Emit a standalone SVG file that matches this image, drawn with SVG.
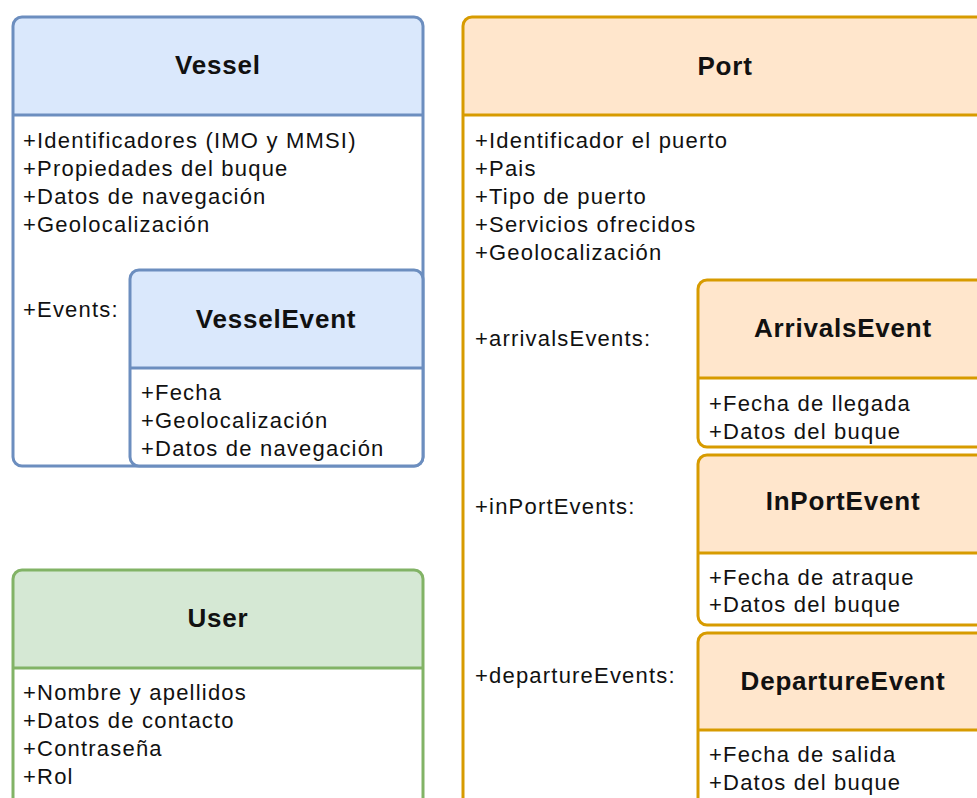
<svg xmlns="http://www.w3.org/2000/svg" width="977" height="798" viewBox="0 0 977 798">
  <style>
    .frame { fill: none; stroke-width: 3; }
    .body { fill: #ffffff; stroke: none; }
    .blue .frame, .blue .div { stroke: #6c8ebf; }
    .blue .head { fill: #dae8fc; }
    .orange .frame, .orange .div { stroke: #d79b00; }
    .orange .head { fill: #ffe6cc; }
    .green .frame, .green .div { stroke: #82b366; }
    .green .head { fill: #d5e8d4; }
    .div { stroke-width: 3; }
    .title { font-family: "Liberation Sans", Arial, sans-serif; font-weight: bold; font-size: 26px; letter-spacing: 0.8px; fill: #111; text-anchor: middle; }
    .attr { font-family: "Liberation Sans", Arial, sans-serif; font-size: 22px; letter-spacing: 1.2px; fill: #111; }
  </style>
  <rect width="977" height="798" fill="#ffffff"/>

  <!-- Vessel class -->
  <g id="vessel" class="blue">
    <rect class="body" x="13" y="17" width="410" height="449" rx="9"/>
    <path class="head" d="M13,115 V26 Q13,17 22,17 H414 Q423,17 423,26 V115 Z"/>
    <line class="div" x1="13" y1="115" x2="423" y2="115"/>
    <rect class="frame" x="13" y="17" width="410" height="449" rx="9"/>
    <text class="title" x="218" y="74">Vessel</text>
    <text class="attr" x="23" y="148">+Identificadores (IMO y MMSI)</text>
    <text class="attr" x="23" y="176">+Propiedades del buque</text>
    <text class="attr" x="23" y="204">+Datos de navegación</text>
    <text class="attr" x="23" y="232">+Geolocalización</text>
    <text class="attr" x="23" y="317">+Events:</text>
  </g>

  <!-- VesselEvent nested class -->
  <g id="vessel-event" class="blue">
    <rect class="body" x="130" y="270" width="293" height="196" rx="9"/>
    <path class="head" d="M130,368 V279 Q130,270 139,270 H414 Q423,270 423,279 V368 Z"/>
    <line class="div" x1="130" y1="368" x2="423" y2="368"/>
    <rect class="frame" x="130" y="270" width="293" height="196" rx="9"/>
    <text class="title" x="276" y="328">VesselEvent</text>
    <text class="attr" x="141" y="400">+Fecha</text>
    <text class="attr" x="141" y="428">+Geolocalización</text>
    <text class="attr" x="141" y="456">+Datos de navegación</text>
  </g>

  <!-- Port class -->
  <g id="port" class="orange">
    <rect class="body" x="463" y="17" width="525" height="800" rx="9"/>
    <path class="head" d="M463,115 V26 Q463,17 472,17 H979 Q988,17 988,26 V115 Z"/>
    <line class="div" x1="463" y1="115" x2="988" y2="115"/>
    <rect class="frame" x="463" y="17" width="525" height="800" rx="9"/>
    <text class="title" x="725" y="75">Port</text>
    <text class="attr" x="475" y="148">+Identificador el puerto</text>
    <text class="attr" x="475" y="176">+Pais</text>
    <text class="attr" x="475" y="204">+Tipo de puerto</text>
    <text class="attr" x="475" y="232">+Servicios ofrecidos</text>
    <text class="attr" x="475" y="260">+Geolocalización</text>
    <text class="attr" x="475" y="346">+arrivalsEvents:</text>
    <text class="attr" x="475" y="514">+inPortEvents:</text>
    <text class="attr" x="475" y="683">+departureEvents:</text>
  </g>

  <!-- ArrivalsEvent nested class -->
  <g id="arrivals-event" class="orange">
    <rect class="body" x="698" y="280" width="290" height="167" rx="9"/>
    <path class="head" d="M698,378 V289 Q698,280 707,280 H979 Q988,280 988,289 V378 Z"/>
    <line class="div" x1="698" y1="378" x2="988" y2="378"/>
    <rect class="frame" x="698" y="280" width="290" height="167" rx="9"/>
    <text class="title" x="843" y="337">ArrivalsEvent</text>
    <text class="attr" x="709" y="411">+Fecha de llegada</text>
    <text class="attr" x="709" y="439">+Datos del buque</text>
  </g>

  <!-- InPortEvent nested class -->
  <g id="inport-event" class="orange">
    <rect class="body" x="698" y="455" width="290" height="170" rx="9"/>
    <path class="head" d="M698,553 V464 Q698,455 707,455 H979 Q988,455 988,464 V553 Z"/>
    <line class="div" x1="698" y1="553" x2="988" y2="553"/>
    <rect class="frame" x="698" y="455" width="290" height="170" rx="9"/>
    <text class="title" x="843" y="510">InPortEvent</text>
    <text class="attr" x="709" y="585">+Fecha de atraque</text>
    <text class="attr" x="709" y="612">+Datos del buque</text>
  </g>

  <!-- DepartureEvent nested class -->
  <g id="departure-event" class="orange">
    <rect class="body" x="698" y="633" width="290" height="200" rx="9"/>
    <path class="head" d="M698,730 V642 Q698,633 707,633 H979 Q988,633 988,642 V730 Z"/>
    <line class="div" x1="698" y1="730" x2="988" y2="730"/>
    <rect class="frame" x="698" y="633" width="290" height="200" rx="9"/>
    <text class="title" x="843" y="690">DepartureEvent</text>
    <text class="attr" x="709" y="762">+Fecha de salida</text>
    <text class="attr" x="709" y="790">+Datos del buque</text>
  </g>

  <!-- User class -->
  <g id="user" class="green">
    <rect class="body" x="13" y="570" width="410" height="260" rx="9"/>
    <path class="head" d="M13,668 V579 Q13,570 22,570 H414 Q423,570 423,579 V668 Z"/>
    <line class="div" x1="13" y1="668" x2="423" y2="668"/>
    <rect class="frame" x="13" y="570" width="410" height="260" rx="9"/>
    <text class="title" x="218" y="627">User</text>
    <text class="attr" x="23" y="700">+Nombre y apellidos</text>
    <text class="attr" x="23" y="728">+Datos de contacto</text>
    <text class="attr" x="23" y="756">+Contraseña</text>
    <text class="attr" x="23" y="784">+Rol</text>
  </g>

  <g id="connectors"/>
</svg>
